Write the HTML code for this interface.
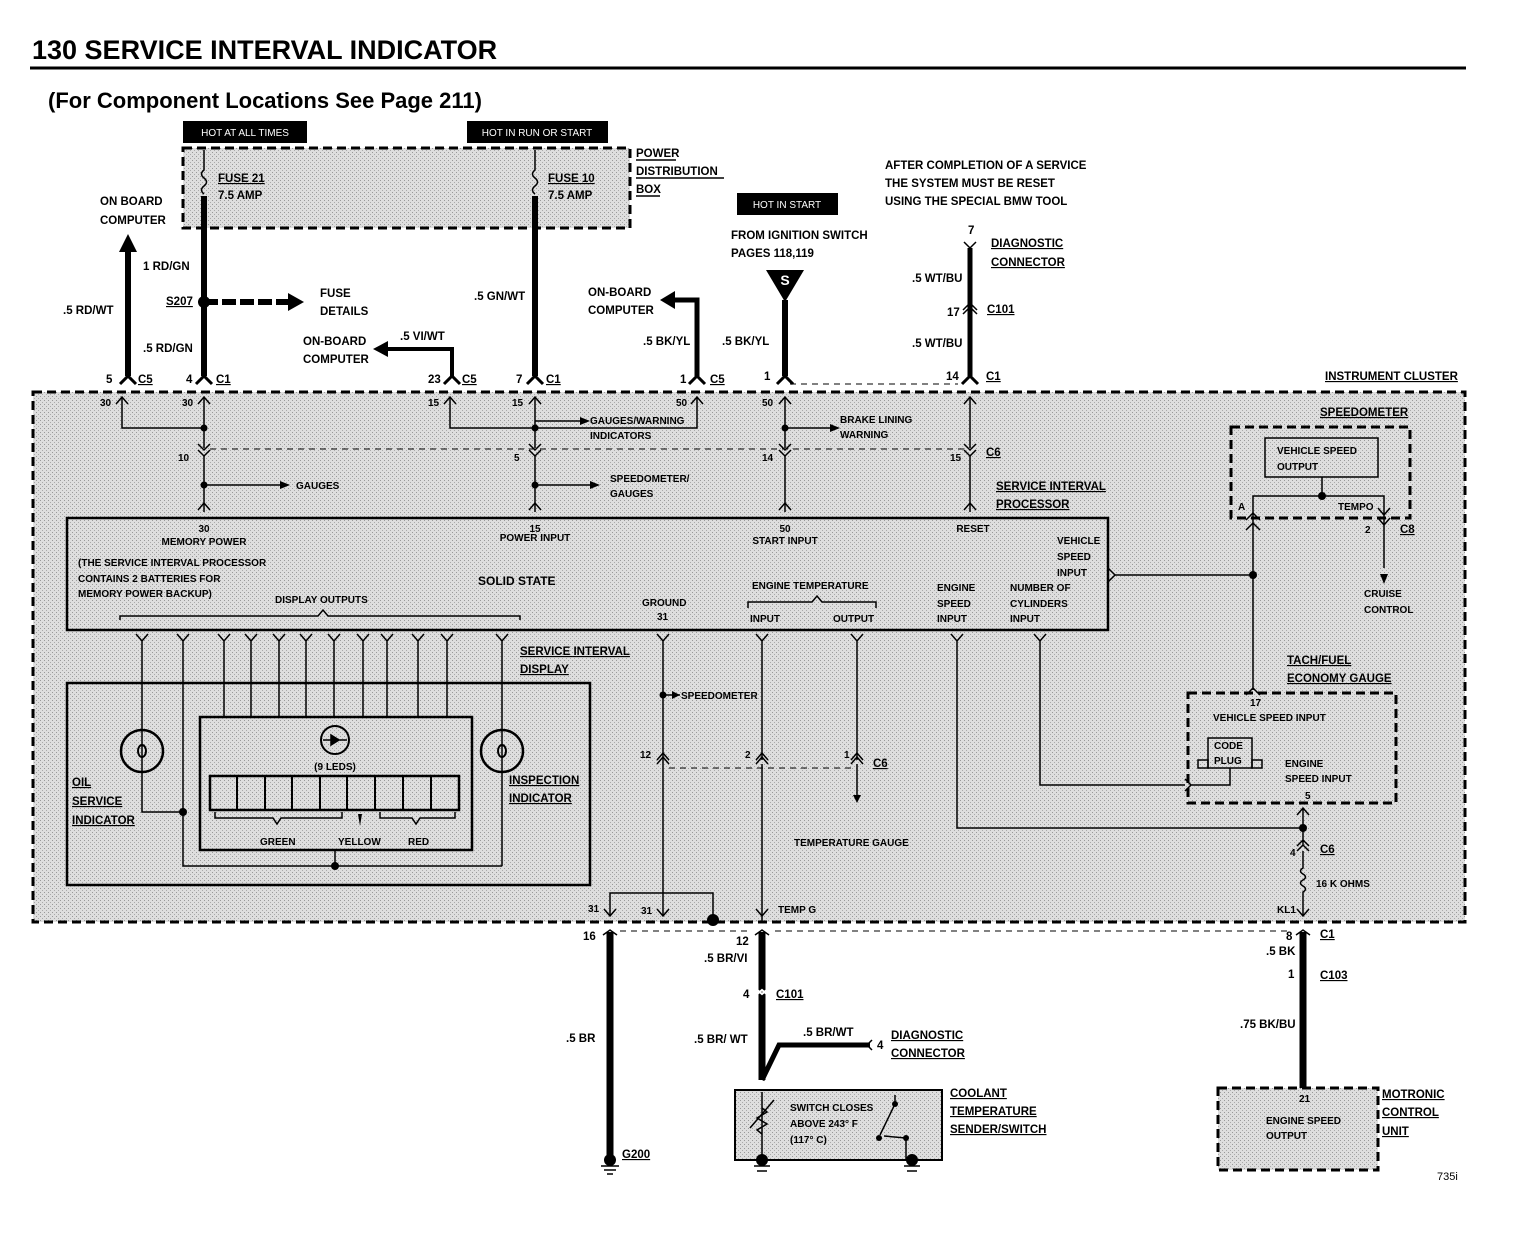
<!DOCTYPE html>
<html><head><meta charset="utf-8"><style>
html,body{margin:0;padding:0;background:#fff;}
svg{display:block;}
text{font-family:"Liberation Sans Narrow","Liberation Sans",sans-serif;font-weight:bold;font-size:11.5px;fill:#000;}
.u{text-decoration:underline;}
.w{stroke:#000;stroke-width:1.5;fill:none;}
.tw{stroke:#000;stroke-width:6;fill:none;}
.ds{stroke:#000;stroke-width:3;fill:none;stroke-dasharray:9,5;}
.dt{stroke:#000;stroke-width:1;fill:none;stroke-dasharray:6,5;}
</style></head><body>
<svg width="1521" height="1238" viewBox="0 0 1521 1238" xmlns="http://www.w3.org/2000/svg">
<defs>
<pattern id="st" width="4" height="4" patternUnits="userSpaceOnUse"><rect width="4" height="4" fill="#dedede"/><rect x="0" y="0" width="1" height="1" fill="#999"/><rect x="2" y="2" width="1" height="1" fill="#aaa"/></pattern>
</defs>
<text x="32" y="59" style="font-family:'Liberation Sans',sans-serif;font-size:27px;">130  SERVICE INTERVAL INDICATOR</text>
<line x1="30" y1="68" x2="1466" y2="68" stroke="#000" stroke-width="3"/>
<text x="48" y="108" style="font-family:'Liberation Sans',sans-serif;font-size:22px;">(For Component Locations See Page 211)</text>

<rect x="183" y="121" width="124" height="22" fill="#000"/><text x="245" y="136" text-anchor="middle" style="fill:#fff;font-weight:normal;font-size:10px;font-family:'Liberation Sans',sans-serif">HOT AT ALL TIMES</text>
<rect x="467" y="121" width="141" height="22" fill="#000"/><text x="537" y="136" text-anchor="middle" style="fill:#fff;font-weight:normal;font-size:10px;font-family:'Liberation Sans',sans-serif">HOT IN RUN OR START</text>
<rect x="737" y="193" width="101" height="22" fill="#000"/><text x="787" y="208" text-anchor="middle" style="fill:#fff;font-weight:normal;font-size:10px;font-family:'Liberation Sans',sans-serif">HOT IN START</text>

<rect x="183" y="148" width="447" height="80" fill="url(#st)"/>
<rect x="183" y="148" width="447" height="80" class="ds"/>
<text x="636" y="157">POWER</text><text x="636" y="175">DISTRIBUTION</text><text x="636" y="193">BOX</text>
<line x1="636" y1="160" x2="676" y2="160" class="w" stroke-width="1"/>
<line x1="636" y1="178" x2="724" y2="178" class="w" stroke-width="1"/>
<line x1="636" y1="196" x2="660" y2="196" class="w" stroke-width="1"/>
<text x="218" y="182" class="u">FUSE 21</text><text x="218" y="199">7.5 AMP</text>
<text x="548" y="182" class="u">FUSE 10</text><text x="548" y="199">7.5 AMP</text>
<path d="M204 150 V170 q-5 4 0 8 q5 4 0 8 q-5 4 0 8" class="w"/>
<path d="M535 150 V170 q-5 4 0 8 q5 4 0 8 q-5 4 0 8" class="w"/>
<line x1="204" y1="196" x2="204" y2="376" class="tw"/>
<line x1="535" y1="196" x2="535" y2="376" class="tw"/>

<text x="100" y="205">ON BOARD</text><text x="100" y="224">COMPUTER</text>
<line x1="128" y1="250" x2="128" y2="376" class="tw"/>
<polygon points="119,252 128,234 137,252" fill="#000"/>
<text x="143" y="270">1 RD/GN</text>
<text x="63" y="314">.5 RD/WT</text>
<text x="143" y="352">.5 RD/GN</text>
<text x="166" y="305" class="u">S207</text>
<circle cx="204" cy="302" r="6" fill="#000"/>
<path d="M204 302 H290" stroke="#000" stroke-width="6" stroke-dasharray="14,4"/>
<polygon points="288,293 304,302 288,311" fill="#000"/>
<text x="320" y="297">FUSE</text><text x="320" y="315">DETAILS</text>
<text x="474" y="300">.5 GN/WT</text>

<text x="303" y="345">ON-BOARD</text><text x="303" y="363">COMPUTER</text>
<text x="400" y="340">.5 VI/WT</text>
<path d="M385 349 H452 V376" stroke="#000" stroke-width="4" fill="none"/>
<polygon points="388,341 373,349 388,357" fill="#000"/>

<text x="588" y="296">ON-BOARD</text><text x="588" y="314">COMPUTER</text>
<path d="M670 300 H697 V376" stroke="#000" stroke-width="5" fill="none"/>
<polygon points="675,291 660,300 675,309" fill="#000"/>
<text x="643" y="345">.5 BK/YL</text>
<text x="722" y="345">.5 BK/YL</text>

<text x="731" y="239">FROM IGNITION SWITCH</text>
<text x="731" y="257">PAGES 118,119</text>
<polygon points="766,270 804,270 785,302" fill="#000"/>
<text x="785" y="285" text-anchor="middle" style="fill:#fff;font-size:14px">S</text>
<line x1="785" y1="300" x2="785" y2="376" class="tw"/>

<text x="885" y="169">AFTER COMPLETION OF A SERVICE</text>
<text x="885" y="187">THE SYSTEM MUST BE RESET</text>
<text x="885" y="205">USING THE SPECIAL BMW TOOL</text>
<text x="968" y="234">7</text>
<path d="M964 242 L970 248 L976 242" class="w"/>
<text x="991" y="247" class="u">DIAGNOSTIC</text><text x="991" y="266" class="u">CONNECTOR</text>
<line x1="970" y1="248" x2="970" y2="376" stroke="#000" stroke-width="5"/>
<text x="912" y="282">.5 WT/BU</text>
<text x="947" y="316">17</text>
<path d="M963 310 L970 303 L977 310 M963 314 L970 307 L977 314" class="w" stroke-width="2"/>
<text x="987" y="313" class="u">C101</text>
<text x="912" y="347">.5 WT/BU</text>
<line x1="790" y1="384" x2="958" y2="384" class="dt"/>

<text x="106" y="383">5</text><text x="138" y="383" class="u">C5</text>
<text x="186" y="383">4</text><text x="216" y="383" class="u">C1</text>
<text x="428" y="383">23</text><text x="462" y="383" class="u">C5</text>
<text x="516" y="383">7</text><text x="546" y="383" class="u">C1</text>
<text x="680" y="383">1</text><text x="710" y="383" class="u">C5</text>
<text x="764" y="380">1</text>
<text x="946" y="380">14</text><text x="986" y="380" class="u">C1</text>
<g stroke="#000" stroke-width="3" fill="none">
<path d="M120 384 L128 376 L136 384"/><path d="M196 384 L204 376 L212 384"/>
<path d="M444 384 L452 376 L460 384"/><path d="M527 384 L535 376 L543 384"/>
<path d="M689 384 L697 376 L705 384"/><path d="M777 384 L785 376 L793 384"/>
<path d="M962 384 L970 376 L978 384"/>
</g>

<text x="1325" y="380" class="u">INSTRUMENT CLUSTER</text>
<rect x="33" y="392" width="1432" height="530" fill="url(#st)"/>
<rect x="33" y="392" width="1432" height="530" class="ds"/>

<g stroke="#000" stroke-width="1.5" fill="none">
<path d="M116 404 L122 397 L128 404"/><path d="M198 404 L204 397 L210 404"/>
<path d="M444 404 L450 397 L456 404"/><path d="M529 404 L535 397 L541 404"/>
<path d="M691 404 L697 397 L703 404"/><path d="M779 404 L785 397 L791 404"/>
<path d="M964 404 L970 397 L976 404"/>
<path d="M122 398 V428 H204"/><path d="M204 398 V448"/>
<path d="M450 398 V428 H535"/><path d="M535 398 V448"/>
<path d="M697 398 V428 H535"/><path d="M785 398 V448"/><path d="M970 398 V448"/>
<path d="M535 421 H585"/><path d="M785 428 H835"/>
<path d="M198 444 L204 450 L210 444 M198 450 L204 456 L210 450"/>
<path d="M529 444 L535 450 L541 444 M529 450 L535 456 L541 450"/>
<path d="M779 444 L785 450 L791 444 M779 450 L785 456 L791 450"/>
<path d="M964 444 L970 450 L976 444 M964 450 L970 456 L976 450"/>
<path d="M204 456 V512"/><path d="M535 456 V512"/><path d="M785 456 V512"/><path d="M970 456 V512"/>
<path d="M204 485 H280"/><path d="M535 485 H590"/>
<path d="M198 510 L204 503 L210 510"/><path d="M529 510 L535 503 L541 510"/><path d="M779 510 L785 503 L791 510"/><path d="M964 510 L970 503 L976 510"/>
</g>
<line x1="210" y1="449" x2="964" y2="449" class="dt"/>
<circle cx="535" cy="428" r="3.5"/><circle cx="785" cy="428" r="3.5"/><circle cx="204" cy="428" r="3.5"/>
<circle cx="204" cy="485" r="3.5"/><circle cx="535" cy="485" r="3.5"/>
<polygon points="580,417 590,421 580,425"/><polygon points="830,424 840,428 830,432"/>
<polygon points="280,481 290,485 280,489"/><polygon points="590,481 600,485 590,489"/>
<text x="100" y="406" style="font-size:10px">30</text><text x="182" y="406" style="font-size:10px">30</text>
<text x="428" y="406" style="font-size:10px">15</text><text x="512" y="406" style="font-size:10px">15</text>
<text x="676" y="406" style="font-size:10px">50</text><text x="762" y="406" style="font-size:10px">50</text>
<text x="590" y="424" style="font-size:10px">GAUGES/WARNING</text><text x="590" y="439" style="font-size:10px">INDICATORS</text>
<text x="840" y="423" style="font-size:10px">BRAKE LINING</text><text x="840" y="438" style="font-size:10px">WARNING</text>
<text x="178" y="461" style="font-size:10px">10</text><text x="514" y="461" style="font-size:10px">5</text>
<text x="762" y="461" style="font-size:10px">14</text><text x="950" y="461" style="font-size:10px">15</text>
<text x="986" y="456" class="u">C6</text>
<text x="296" y="489" style="font-size:10px">GAUGES</text>
<text x="610" y="482" style="font-size:10px">SPEEDOMETER/</text><text x="610" y="497" style="font-size:10px">GAUGES</text>
<text x="996" y="490" class="u">SERVICE INTERVAL</text><text x="996" y="508" class="u">PROCESSOR</text>

<rect x="67" y="518" width="1041" height="112" fill="none" stroke="#000" stroke-width="2.5"/>
<text x="204" y="532" text-anchor="middle" style="font-size:10px">30</text><text x="204" y="545" text-anchor="middle" style="font-size:10px">MEMORY POWER</text>
<text x="535" y="532" text-anchor="middle" style="font-size:10px">15</text><text x="535" y="541" text-anchor="middle" style="font-size:10px">POWER INPUT</text>
<text x="785" y="532" text-anchor="middle" style="font-size:10px">50</text><text x="785" y="544" text-anchor="middle" style="font-size:10px">START INPUT</text>
<text x="973" y="532" text-anchor="middle" style="font-size:10px">RESET</text>
<text x="1057" y="544" style="font-size:10px">VEHICLE</text><text x="1057" y="560" style="font-size:10px">SPEED</text><text x="1057" y="576" style="font-size:10px">INPUT</text>
<text x="78" y="566" style="font-size:10px">(THE SERVICE INTERVAL PROCESSOR</text>
<text x="78" y="582" style="font-size:10px">CONTAINS 2 BATTERIES FOR</text>
<text x="78" y="597" style="font-size:10px">MEMORY POWER BACKUP)</text>
<text x="275" y="603" style="font-size:10px">DISPLAY OUTPUTS</text>
<text x="478" y="585" style="font-size:12px">SOLID STATE</text>
<text x="642" y="606" style="font-size:10px">GROUND</text><text x="657" y="620" style="font-size:10px">31</text>
<text x="752" y="589" style="font-size:10px">ENGINE TEMPERATURE</text>
<text x="750" y="622" style="font-size:10px">INPUT</text><text x="833" y="622" style="font-size:10px">OUTPUT</text>
<text x="937" y="591" style="font-size:10px">ENGINE</text><text x="937" y="607" style="font-size:10px">SPEED</text><text x="937" y="622" style="font-size:10px">INPUT</text>
<text x="1010" y="591" style="font-size:10px">NUMBER OF</text><text x="1010" y="607" style="font-size:10px">CYLINDERS</text><text x="1010" y="622" style="font-size:10px">INPUT</text>
<path d="M120 620 V616 H318 L323 610 L328 616 H520 V620" class="w" stroke-width="2"/>
<path d="M748 608 V602 H812 L817 596 L822 602 H876 V608" class="w" stroke-width="2"/>

<g stroke="#000" stroke-width="1.5" fill="none">
<path d="M136 634 L142 641 L148 634 M142 641 V812 H183"/>
<path d="M177 634 L183 641 L189 634 M183 641 V866 H502"/>
<path d="M218 634 L224 641 L230 634 M224 641 V717"/>
<path d="M245 634 L251 641 L257 634 M251 641 V717"/>
<path d="M273 634 L279 641 L285 634 M279 641 V717"/>
<path d="M300 634 L306 641 L312 634 M306 641 V717"/>
<path d="M328 634 L334 641 L340 634 M334 641 V717"/>
<path d="M357 634 L363 641 L369 634 M363 641 V717"/>
<path d="M381 634 L387 641 L393 634 M387 641 V717"/>
<path d="M412 634 L418 641 L424 634 M418 641 V717"/>
<path d="M441 634 L447 641 L453 634 M447 641 V717"/>
<path d="M496 634 L502 641 L508 634 M502 641 V866"/>
<path d="M335 850 V866"/>
</g>
<circle cx="183" cy="812" r="4"/><circle cx="335" cy="866" r="4"/>
<text x="520" y="655" class="u">SERVICE INTERVAL</text><text x="520" y="673" class="u">DISPLAY</text>
<rect x="67" y="683" width="523" height="202" fill="none" stroke="#000" stroke-width="2.5"/>
<rect x="200" y="717" width="272" height="133" fill="none" stroke="#000" stroke-width="2.5"/>
<circle cx="142" cy="751" r="21" fill="none" stroke="#000" stroke-width="2.5"/>
<ellipse cx="142" cy="751" rx="4" ry="6" fill="none" stroke="#000" stroke-width="2"/>
<circle cx="502" cy="751" r="21" fill="none" stroke="#000" stroke-width="2.5"/>
<ellipse cx="502" cy="751" rx="4" ry="6" fill="none" stroke="#000" stroke-width="2"/>
<circle cx="335" cy="740" r="14" fill="none" stroke="#000" stroke-width="2"/>
<path d="M323 740 H347 M331 735 L339 740 L331 745Z" stroke="#000" stroke-width="1.5"/>
<text x="335" y="770" text-anchor="middle" style="font-size:10px">(9 LEDS)</text>
<rect x="210" y="776" width="249" height="34" fill="none" stroke="#000" stroke-width="2.5"/>
<g stroke="#000" stroke-width="2"><line x1="237" y1="776" x2="237" y2="810"/><line x1="265" y1="776" x2="265" y2="810"/><line x1="292" y1="776" x2="292" y2="810"/><line x1="320" y1="776" x2="320" y2="810"/><line x1="347" y1="776" x2="347" y2="810"/><line x1="375" y1="776" x2="375" y2="810"/><line x1="403" y1="776" x2="403" y2="810"/><line x1="431" y1="776" x2="431" y2="810"/></g>
<path d="M215 812 V818 H273 L277 824 L281 818 H342 V812" class="w" stroke-width="2"/>
<path d="M380 812 V818 H412 L416 824 L420 818 H455 V812" class="w" stroke-width="2"/>
<polygon points="358,814 362,814 360,826"/>
<text x="260" y="845" style="font-size:10px">GREEN</text><text x="338" y="845" style="font-size:10px">YELLOW</text><text x="408" y="845" style="font-size:10px">RED</text>
<text x="72" y="786" class="u">OIL</text><text x="72" y="805" class="u">SERVICE</text><text x="72" y="824" class="u">INDICATOR</text>
<text x="509" y="784" class="u">INSPECTION</text><text x="509" y="802" class="u">INDICATOR</text>

<g stroke="#000" stroke-width="1.5" fill="none">
<path d="M657 634 L663 641 L669 634 M663 641 V893"/>
<path d="M756 634 L762 641 L768 634 M762 641 V760"/>
<path d="M851 634 L857 641 L863 634 M857 641 V760"/>
<path d="M951 634 L957 641 L963 634 M957 641 V828 H1303"/>
<path d="M1034 634 L1040 641 L1046 634 M1040 641 V785 H1185"/>
<path d="M657 760 L663 753 L669 760 M657 764 L663 757 L669 764"/>
<path d="M756 760 L762 753 L768 760 M756 764 L762 757 L768 764"/>
<path d="M851 760 L857 753 L863 760 M851 764 L857 757 L863 764"/>
<path d="M762 764 V922"/><path d="M857 764 V795"/>
<path d="M663 695 H680"/>
<path d="M610 915 V893 H713 V920"/><path d="M663 893 V915"/>
<path d="M1115 575 H1253"/><path d="M1108 568 L1115 575 L1108 582"/>
</g>
<line x1="669" y1="768" x2="851" y2="768" class="dt"/>
<circle cx="663" cy="695" r="3.5"/><polygon points="672,691 680,695 672,699"/>
<text x="681" y="699" style="font-size:10px">SPEEDOMETER</text>
<polygon points="853,795 861,795 857,803"/>
<text x="794" y="846" style="font-size:10px">TEMPERATURE GAUGE</text>
<text x="640" y="758" style="font-size:10px">12</text><text x="745" y="758" style="font-size:10px">2</text><text x="844" y="758" style="font-size:10px">1</text>
<text x="873" y="767" class="u">C6</text>

<text x="1320" y="416" class="u">SPEEDOMETER</text>
<rect x="1231" y="427" width="179" height="91" class="ds" stroke-width="2.5"/>
<rect x="1265" y="438" width="113" height="39" fill="none" stroke="#000" stroke-width="1.5"/>
<text x="1277" y="454" style="font-size:10px">VEHICLE SPEED</text><text x="1277" y="470" style="font-size:10px">OUTPUT</text>
<path d="M1322 477 V496 H1253 V690 M1322 496 H1384 V568" class="w"/>
<circle cx="1322" cy="496" r="4"/><circle cx="1253" cy="575" r="4"/>
<path d="M1246 520 L1253 513 L1260 520 M1246 530 L1253 523 L1260 530 M1246 695 L1253 688 L1260 695 M1378 508 L1384 515 L1390 508 M1378 518 L1384 525 L1390 518" class="w"/>
<polygon points="1380,574 1388,574 1384,584"/>
<text x="1238" y="510" style="font-size:10px">A</text><text x="1338" y="510" style="font-size:10px">TEMPO</text>
<text x="1365" y="533" style="font-size:10px">2</text><text x="1400" y="533" class="u">C8</text>
<text x="1364" y="597" style="font-size:10px">CRUISE</text><text x="1364" y="613" style="font-size:10px">CONTROL</text>
<text x="1287" y="664" class="u">TACH/FUEL</text><text x="1287" y="682" class="u">ECONOMY GAUGE</text>
<rect x="1188" y="693" width="208" height="110" class="ds" stroke-width="2.5"/>
<text x="1250" y="706" style="font-size:10px">17</text>
<text x="1213" y="721" style="font-size:10px">VEHICLE SPEED INPUT</text>
<rect x="1208" y="738" width="44" height="30" fill="none" stroke="#000" stroke-width="1.5"/>
<rect x="1198" y="760" width="10" height="8" fill="none" stroke="#000" stroke-width="1.5"/><rect x="1252" y="760" width="10" height="8" fill="none" stroke="#000" stroke-width="1.5"/>
<text x="1214" y="749" style="font-size:10px">CODE</text><text x="1214" y="764" style="font-size:10px">PLUG</text>
<path d="M1230 768 V785 H1190 M1185 779 L1191 785 L1185 791" class="w"/>
<text x="1285" y="767" style="font-size:10px">ENGINE</text><text x="1285" y="782" style="font-size:10px">SPEED INPUT</text>
<text x="1305" y="799" style="font-size:10px">5</text>
<path d="M1297 815 L1303 808 L1309 815 M1303 808 V846 M1297 846 L1303 840 L1309 846 M1297 851 L1303 845 L1309 851 M1303 851 V868 q-5 3 0 6 q5 3 0 6 q-5 3 0 6 q5 3 0 6 V915 M1297 909 L1303 916 L1309 909" class="w"/>
<circle cx="1303" cy="828" r="4"/>
<text x="1290" y="856" style="font-size:10px">4</text><text x="1320" y="853" class="u">C6</text>
<text x="1316" y="887" style="font-size:10px">16 K OHMS</text>
<text x="1277" y="913" style="font-size:10px">KL1</text>

<g stroke="#000" stroke-width="1.5" fill="none">
<path d="M604 909 L610 916 L616 909 M657 909 L663 916 L669 909 M756 909 L762 916 L768 909"/>
</g>
<circle cx="713" cy="920" r="6"/>
<text x="588" y="912" style="font-size:10px">31</text><text x="641" y="914" style="font-size:10px">31</text>
<text x="778" y="913" style="font-size:10px">TEMP G</text>
<line x1="620" y1="931" x2="750" y2="931" class="dt"/>
<line x1="775" y1="931" x2="1290" y2="931" class="dt"/>
<path d="M603 935 L610 930 L617 935 M755 935 L762 930 L769 935 M1296 935 L1303 930 L1310 935" class="w" stroke-width="3"/>
<text x="583" y="940">16</text><text x="736" y="945">12</text>
<line x1="610" y1="932" x2="610" y2="1160" stroke="#000" stroke-width="7"/>
<circle cx="610" cy="1160" r="6"/><path d="M601 1166 H619 M604 1170 H616 M607 1174 H613" class="w"/>
<text x="622" y="1158" class="u">G200</text>
<text x="566" y="1042">.5 BR</text>
<line x1="762" y1="932" x2="762" y2="1080" stroke="#000" stroke-width="7"/>
<text x="704" y="962">.5 BR/VI</text>
<text x="743" y="998">4</text><text x="776" y="998" class="u">C101</text>
<path d="M755 988 L762 994 L769 988 M755 996 L762 990 L769 996" stroke="#fff" stroke-width="2" fill="none"/>
<text x="694" y="1043">.5 BR/ WT</text>
<text x="803" y="1036">.5 BR/WT</text>
<path d="M762 1080 L779 1045 H870" stroke="#000" stroke-width="5" fill="none"/>
<path d="M872 1040 L867 1045 L872 1050" class="w" stroke-width="2"/>
<text x="877" y="1049">4</text>
<text x="891" y="1039" class="u">DIAGNOSTIC</text><text x="891" y="1057" class="u">CONNECTOR</text>
<rect x="735" y="1090" width="207" height="70" fill="url(#st)" stroke="#000" stroke-width="2"/>
<path d="M762 1092 V1160 M750 1128 L774 1100 M895 1095 V1104 L880 1135 M884 1136 L906 1138 V1160" class="w"/>
<path d="M762 1108 l5 4 -10 6 10 6 -10 6 5 4" class="w"/>
<circle cx="895" cy="1104" r="3"/><circle cx="879" cy="1138" r="3"/><circle cx="906" cy="1138" r="3"/>
<text x="790" y="1111" style="font-size:10px">SWITCH CLOSES</text><text x="790" y="1127" style="font-size:10px">ABOVE 243° F</text><text x="790" y="1143" style="font-size:10px">(117° C)</text>
<circle cx="762" cy="1160" r="6"/><circle cx="912" cy="1160" r="6"/>
<path d="M754 1166 H770 M757 1171 H767 M904 1166 H920 M907 1171 H917" class="w"/>
<text x="950" y="1097" class="u">COOLANT</text><text x="950" y="1115" class="u">TEMPERATURE</text><text x="950" y="1133" class="u">SENDER/SWITCH</text>
<line x1="1303" y1="932" x2="1303" y2="1088" stroke="#000" stroke-width="7"/>
<text x="1286" y="940">8</text><text x="1320" y="938" class="u">C1</text>
<text x="1266" y="955">.5 BK</text>
<text x="1288" y="978">1</text><text x="1320" y="979" class="u">C103</text>
<text x="1240" y="1028">.75 BK/BU</text>
<rect x="1218" y="1088" width="160" height="82" fill="url(#st)"/>
<rect x="1218" y="1088" width="160" height="82" class="ds" stroke-width="2.5"/>
<text x="1299" y="1102" style="font-size:10px">21</text>
<text x="1266" y="1124" style="font-size:10px">ENGINE SPEED</text><text x="1266" y="1139" style="font-size:10px">OUTPUT</text>
<text x="1382" y="1098" class="u">MOTRONIC</text><text x="1382" y="1116" class="u">CONTROL</text><text x="1382" y="1135" class="u">UNIT</text>
<text x="1437" y="1180" style="font-weight:normal;font-family:'Liberation Sans',sans-serif;font-size:11px">735i</text>
</svg>
</body></html>
